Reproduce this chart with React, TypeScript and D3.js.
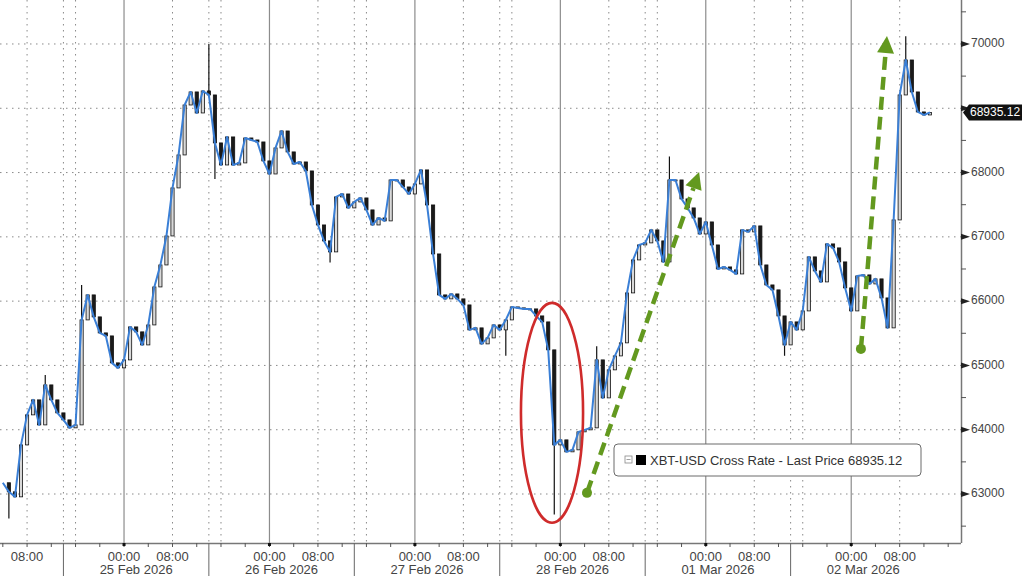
import * as d3 from 'd3'

// hourly closes, first one at 24 Feb 04:00
const START = new Date(2026, 1, 24, 4, 0)
const closes = [
  63175, 63034, 62956, 63764, 64231, 64464, 64075, 64697, 64464, 64262,
  64153, 64029, 64075, 65708, 66097, 65755, 65506, 65459, 65040, 64962,
  65086, 65599, 65522, 65319, 65630, 66221, 66563, 67014, 67761, 68274,
  69051, 69254, 68927, 69269, 69207, 68461, 68118, 68554, 68118, 68150,
  68538, 68507, 68476, 68181, 67978, 68383, 68647, 68321, 68134, 68165,
  68025, 67496, 67185, 66937, 66766, 67621, 67667, 67450, 67543, 67605,
  67419, 67185, 67294, 67248, 67885, 67885, 67776, 67667, 67823, 68041,
  67496, 66734, 66097, 66035, 66112, 66035, 65941, 65553, 65584, 65335,
  65428, 65630, 65553, 65708, 65910, 65895, 65879, 65879, 65770, 65677,
  65242, 63764, 63842, 63656, 63687, 63967, 63998, 64029, 65086, 64495,
  64931, 65148, 65351, 66128, 66641, 66874, 66906, 67108, 66937, 66610,
  67885, 67885, 67590, 67450, 67294, 67045, 67232, 66874, 66501, 66532,
  66486, 66423, 67108, 67077, 67170, 66563, 66252, 66175, 65770, 65319,
  65677, 65553, 65848, 66688, 66470, 66299, 66890, 66828, 66610, 66206,
  65848, 66392, 66408, 66268, 66346, 66050, 65584, 67263, 69207, 69751,
  69254, 68943, 68896, 68935.12,
]
// [candle index, wick extreme]
const spikes: [number, number][] = [
  [1, 62620], [7, 64850], [13, 66250], [34, 70000], [35, 67900], [54, 66600],
  [83, 65150], [91, 62680], [98, 65300], [110, 68250], [129, 65150], [149, 70120],
]
const yTicks = [63000, 64000, 65000, 66000, 67000, 68000, 69000, 70000]
const yMinor = [62500, 63500, 64500, 65500, 66500, 67500, 68500, 69500, 70500]
const lastPrice = 68935.12
const seriesName = 'XBT-USD Cross Rate - Last Price'
const dayLabels = [
  new Date(2026, 1, 25), new Date(2026, 1, 26), new Date(2026, 1, 27),
  new Date(2026, 1, 28), new Date(2026, 2, 1), new Date(2026, 2, 2),
]

const ellipseBox = {
  t0: new Date(2026, 1, 27, 17, 30), t1: new Date(2026, 1, 28, 3, 45),
  hi: 65973, lo: 62552,
}
const arrows: { from: [Date, number], to: [Date, number] }[] = [
  { from: [new Date(2026, 1, 28, 4, 24), 63018], to: [new Date(2026, 1, 28, 22, 54), 68010] },
  { from: [new Date(2026, 2, 2, 1, 36), 65257], to: [new Date(2026, 2, 2, 5, 54), 70124] },
]

const W = 1024, H = 576
const R = 961, B = 543
const FONT = '"Liberation Sans", Arial, sans-serif'
const GREEN = '#63991f'

const x = d3.scaleTime()
  .domain([new Date(2026, 1, 24, 3, 32), new Date(2026, 2, 2, 18, 7)])
  .range([0, R])
const y = d3.scaleLinear().domain([62238, 70684]).range([B, 0])

function Arrow({ from, to }: { from: [Date, number], to: [Date, number] }) {
  const x1 = x(from[0]), y1 = y(from[1]), x2 = x(to[0]), y2 = y(to[1])
  const ang = Math.atan2(y2 - y1, x2 - x1)
  const hl = 17, hw = 8.5
  const bx = x2 - hl * Math.cos(ang), by = y2 - hl * Math.sin(ang)
  const nx = -Math.sin(ang), ny = Math.cos(ang)
  const head = `M${x2},${y2}L${bx + nx * hw},${by + ny * hw}L${bx - nx * hw},${by - ny * hw}Z`
  return (
    <g>
      <line x1={x1} y1={y1} x2={bx} y2={by} stroke={GREEN} strokeWidth={4.5} strokeDasharray="13 7" />
      <circle cx={x1} cy={y1} r={5} fill={GREEN} />
      <path d={head} fill={GREEN} />
    </g>
  )
}

export default function App() {
  const times = closes.map((_, i) => d3.timeHour.offset(START, i))
  const [d0, d1] = x.domain()
  const hours = d3.timeHour.range(d0, d1)
  const lastDay = new Date(2026, 2, 2)

  const gridDotted = hours.filter((h) => {
    const hr = h.getHours()
    if (hr === 8) return true
    if ((hr === 14 || hr === 16) && h < lastDay) return true
    return false
  })
  const midnights = hours.filter((h) => h.getHours() === 0)
  const ticks4h = hours.filter((h) => h.getHours() % 4 === 0)
  const hourLabels = hours.filter((h) => h.getHours() === 0 || h.getHours() === 8)
  const separators = hours.filter((h) => h.getHours() === 14 && h < lastDay)

  const line = d3.line<number>()
    .x((_, i) => x(times[i]))
    .y((d) => y(d))

  const cw = 3.2
  const fmtH = d3.timeFormat('%H:%M')
  const fmtD = d3.timeFormat('%d %b %Y')
  const ly = y(lastPrice)

  return (
    <svg width={W} height={H} style={{ position: 'fixed', left: 0, top: 0, background: '#fff' }}
      fontFamily={FONT}>
      <rect width={W} height={H} fill="#fff" />

      {/* grid */}
      {yTicks.map((v) => (
        <line key={v} x1={0} x2={R} y1={y(v)} y2={y(v)} stroke="#8a8a8a" strokeWidth={1}
          strokeDasharray="1.5 4.5" />
      ))}
      {gridDotted.map((h) => (
        <line key={+h} x1={x(h)} x2={x(h)} y1={0} y2={B} stroke="#8a8a8a" strokeWidth={1}
          strokeDasharray="1.5 4.5" />
      ))}
      {midnights.map((h) => (
        <line key={+h} x1={x(h)} x2={x(h)} y1={0} y2={B} stroke="#8c8c8c" strokeWidth={1.2} />
      ))}

      {/* candles */}
      {spikes.map(([i, v]) => {
        const cx = x(times[i])
        const ref = v > closes[i] ? Math.max(closes[i], closes[i - 1]) : Math.min(closes[i], closes[i - 1])
        return <line key={i} x1={cx} x2={cx} y1={y(v)} y2={y(ref)} stroke="#111" strokeWidth={1.2} />
      })}
      {closes.map((c, i) => {
        if (i === 0) return null
        const o = closes[i - 1]
        const cx = x(times[i])
        const top = y(Math.max(o, c)), bot = y(Math.min(o, c))
        return (
          <rect key={i} x={cx - cw / 2} y={top} width={cw} height={Math.max(1, bot - top)}
            fill={c >= o ? '#d9d9d9' : '#1a1a1a'} stroke="#111" strokeWidth={0.8} />
        )
      })}
      <path d={line(closes) ?? ''} fill="none" stroke="#3a7fd6" strokeWidth={2} strokeLinejoin="round" />

      {/* annotations */}
      <ellipse cx={(x(ellipseBox.t0) + x(ellipseBox.t1)) / 2} cy={(y(ellipseBox.hi) + y(ellipseBox.lo)) / 2}
        rx={(x(ellipseBox.t1) - x(ellipseBox.t0)) / 2} ry={(y(ellipseBox.lo) - y(ellipseBox.hi)) / 2}
        fill="none" stroke="#cf2b2b" strokeWidth={2.6} />
      {arrows.map((a, i) => <Arrow key={i} from={a.from} to={a.to} />)}

      {/* legend */}
      <g transform="translate(614,444)">
        <rect width={307} height={32} rx={4} fill="#fff" stroke="#6b6b6b" strokeWidth={1} />
        <rect x={11} y={12} width={7} height={7} fill="#fff" stroke="#888" strokeWidth={0.8} />
        <line x1={12.5} x2={16.5} y1={15.5} y2={15.5} stroke="#888" strokeWidth={0.8} />
        <rect x={22} y={11} width={10} height={10} fill="#000" />
        <text x={36} y={21} fontSize={13} fill="#333">{`${seriesName} ${lastPrice.toFixed(2)}`}</text>
      </g>

      {/* x axis */}
      <line x1={0} x2={R} y1={B + 0.5} y2={B + 0.5} stroke="#777" strokeWidth={1.5} />
      {ticks4h.map((h) => (
        <line key={+h} x1={x(h)} x2={x(h)} y1={B} y2={B + 4} stroke="#555" strokeWidth={1} />
      ))}
      {midnights.map((h) => (
        <rect key={+h} x={x(h) - 1.5} y={B} width={3} height={3} fill="#111" />
      ))}
      {separators.map((h) => (
        <line key={+h} x1={x(h)} x2={x(h)} y1={B} y2={H} stroke="#666" strokeWidth={1} />
      ))}
      {hourLabels.map((h) => (
        <text key={+h} x={x(h)} y={558} textAnchor="middle" dominantBaseline="middle" fontSize={13} fill="#444">
          {fmtH(h)}
        </text>
      ))}
      {dayLabels.map((d) => (
        <text key={+d} x={x(d3.timeHour.offset(d, 2))} y={571} textAnchor="middle" dominantBaseline="middle"
          fontSize={13} fill="#444">{fmtD(d)}</text>
      ))}

      {/* y axis */}
      <line x1={R + 0.5} x2={R + 0.5} y1={0} y2={B} stroke="#777" strokeWidth={1.5} />
      {yMinor.map((v) => (
        <line key={v} x1={R} x2={R + 5} y1={y(v)} y2={y(v)} stroke="#555" strokeWidth={1} />
      ))}
      {yTicks.map((v) => (
        <g key={v}>
          <path d={`M${R},${y(v) - 3}L${R + 9},${y(v)}L${R},${y(v) + 3}Z`} fill="#222" />
          {v !== 69000 && (
            <text x={R + 10} y={y(v)} dominantBaseline="middle" fontSize={12} fill="#444">{v}</text>
          )}
        </g>
      ))}
      <path d={`M${R + 2},${ly}L${R + 8},${ly - 8}H1022V${ly + 8}H${R + 8}Z`} fill="#111" />
      <text x={R + 9} y={ly + 0.5} dominantBaseline="middle" fontSize={12} fill="#fff">{lastPrice.toFixed(2)}</text>
    </svg>
  )
}
